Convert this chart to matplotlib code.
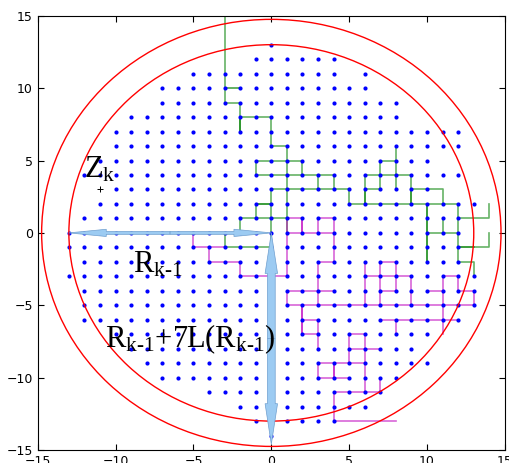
import matplotlib
matplotlib.use("Agg")
import matplotlib.pyplot as plt
from matplotlib.patches import Circle

# cluster sites, row by row: y, first x, last x
row_y = [13, 12, 11, 10, 9, 8, 7, 6, 5, 4, 3, 2, 1, 0, -1, -2, -3, -4,
         -5, -6, -7, -8, -9, -10, -11, -12, -13, -14]
row_xmin = [0, -1, -5, -7, -7, -9, -10, -10, -11, -12, -10, -11, -12, -13, -13,
            -12, -13, -12, -12, -12, -10, -9, -8, -7, -4, -2, -1, 0]
row_xmax = [0, 4, 6, 6, 8, 8, 12, 12, 10, 12, 10, 13, 12, 12, 12, 12, 13, 13,
            13, 12, 10, 9, 10, 8, 7, 6, 4, 0]
holes = [(5, 11)]

z_k = (-11, 3)
r_inner = 13.0
r_outer = 14.75

# first walk (green), as pieces of lattice path
green_walk = [
    [(-3, 17), (-3, 10), (-2, 10), (-3, 10), (-3, 9), (-2, 9), (-2, 7), (-2, 8),
     (0, 8), (0, 6), (1, 6), (1, 0)],
    [(-2, 8), (-2, 7)],
    [(-1, 5), (2, 5), (2, 4)], [(-1, 5), (-1, 4), (4, 4), (4, 3)],
    [(3, 4), (3, 3)], [(0, 0), (0, 3), (5, 3), (5, 2), (12, 2)],
    [(0, 2), (-1, 2), (-1, 1), (1, 1)], [(0, 2), (-1, 2)],
    [(-2, 1), (-1, 1)], [(-2, 1), (-2, 0)],
    [(0, 0), (0, -1), (-3, -1), (-3, 0)],
    [(8, 6), (8, 3)], [(7, 3), (7, 5), (8, 5)],
    [(6, 2), (6, 4), (9, 4), (9, 2)], [(6, 2), (6, 3), (7, 3)],
    [(9, 2), (9, 3), (11, 3), (11, 2)],
    [(10, 2), (10, -2)], [(10, -2), (10, 2)],
    [(10, 0), (12, 0)], [(11, 1), (11, 0)],
    [(12, 2), (12, -2), (13, -2), (13, -3)],
    [(12, 1), (14, 1), (14, 2)],
    [(12, -1), (14, -1), (14, 0)], [(12, -1), (13, -1)],
]

# second walk (magenta)
magenta_walk = [
    [(-5, 0), (-5, -1), (-3, -1)], [(-4, -1), (-4, -2), (-2, -2), (-2, -3), (1, -3)],
    [(1, 1), (1, -3)], [(1, 1), (2, 1), (2, 0)], [(2, 1), (2, 0)],
    [(1, 0), (4, 0)], [(3, 0), (3, 1), (4, 1), (4, -2), (3, -2), (3, -5)],
    [(4, -4), (1, -4), (1, -5), (13, -5)],
    [(2, -5), (2, -7)], [(2, -5), (2, -7), (3, -7)], [(2, -6), (3, -6), (3, -8)],
    [(6, -2), (6, -5)], [(6, -3), (9, -3), (9, -5)],
    [(7, -5), (7, -2), (8, -2), (8, -4), (7, -4)],
    [(10, -4), (11, -4)], [(11, -7), (11, -3), (12, -3), (12, -4), (13, -4), (13, -5)],
    [(7, -6), (12, -6)], [(8, -6), (8, -7)],
    [(6, -7), (5, -7), (5, -9)], [(6, -7), (6, -11)], [(5, -8), (7, -8)],
    [(6, -9), (3, -9), (3, -10), (5, -10)], [(4, -9), (4, -10)], [(4, -9), (4, -10)],
    [(7, -10), (7, -11), (4, -11), (4, -13), (8, -13)],
]

fig = plt.figure(figsize=(5.1, 4.63), dpi=100)
ax = fig.add_axes([0.074, 0.028, 0.916, 0.938])

for piece in green_walk:
    xs, ys = zip(*piece)
    ax.plot(xs, ys, color="green", lw=1.2, alpha=0.6, zorder=2)
for piece in magenta_walk:
    xs, ys = zip(*piece)
    ax.plot(xs, ys, color="m", lw=1.2, alpha=0.6, zorder=2)

dots_x, dots_y = [], []
for y, x0, x1 in zip(row_y, row_xmin, row_xmax):
    for x in range(x0, x1 + 1):
        if (x, y) not in holes:
            dots_x.append(x)
            dots_y.append(y)
ax.plot(dots_x, dots_y, "o", color="blue", ms=3.0, mew=0, zorder=3)

ax.add_patch(Circle((0, 0), r_inner, fill=False, color="red", lw=1.0, zorder=4))
ax.add_patch(Circle((0, 0), r_outer, fill=False, color="red", lw=1.0, zorder=4))

ax.plot(z_k[0], z_k[1], "+", color="black", ms=5, mew=0.7, zorder=5)

arrow_fc = "#9ccbf2"
arrow_ec = "#6f9fcf"
half = -r_inner / 2
ax.arrow(half, 0, -r_inner - half, 0, width=0.2, head_width=0.5, head_length=2.4,
         length_includes_head=True, fc=arrow_fc, ec=arrow_ec, lw=0.5, zorder=6)
ax.arrow(half, 0, -half, 0, width=0.2, head_width=0.5, head_length=2.4,
         length_includes_head=True, fc=arrow_fc, ec=arrow_ec, lw=0.5, zorder=6)
vhalf = -7.3
ax.arrow(0, vhalf, 0, -14.6 - vhalf, width=0.5, head_width=0.8, head_length=2.8,
         length_includes_head=True, fc=arrow_fc, ec=arrow_ec, lw=0.5, zorder=6)
ax.arrow(0, vhalf, 0, -vhalf, width=0.5, head_width=0.8, head_length=2.8,
         length_includes_head=True, fc=arrow_fc, ec=arrow_ec, lw=0.5, zorder=6)

plt.rcParams["mathtext.fontset"] = "custom"
plt.rcParams["mathtext.rm"] = "Liberation Serif"
plt.rcParams["mathtext.it"] = "Liberation Serif"
tkw = dict(fontsize=22, family="Liberation Serif", zorder=7)
ax.text(-12.0, 3.86, r"$\mathrm{Z_k}$", **tkw)
ax.text(-8.9, -2.76, "$\\mathrm{R_{k\u20101}}$", **tkw)
ax.text(-10.7, -7.9, "$\\mathrm{R_{k\u20101}{+}7L(R_{k\u20101})}$", **tkw)

ax.set_xlim(-15, 15)
ax.set_ylim(-15, 15)
ax.set_xticks(range(-15, 16, 5))
ax.set_yticks(range(-15, 16, 5))
ax.tick_params(direction="in", top=True, right=True, labelsize=9, length=4)

fig.savefig("out.png", dpi=100)
